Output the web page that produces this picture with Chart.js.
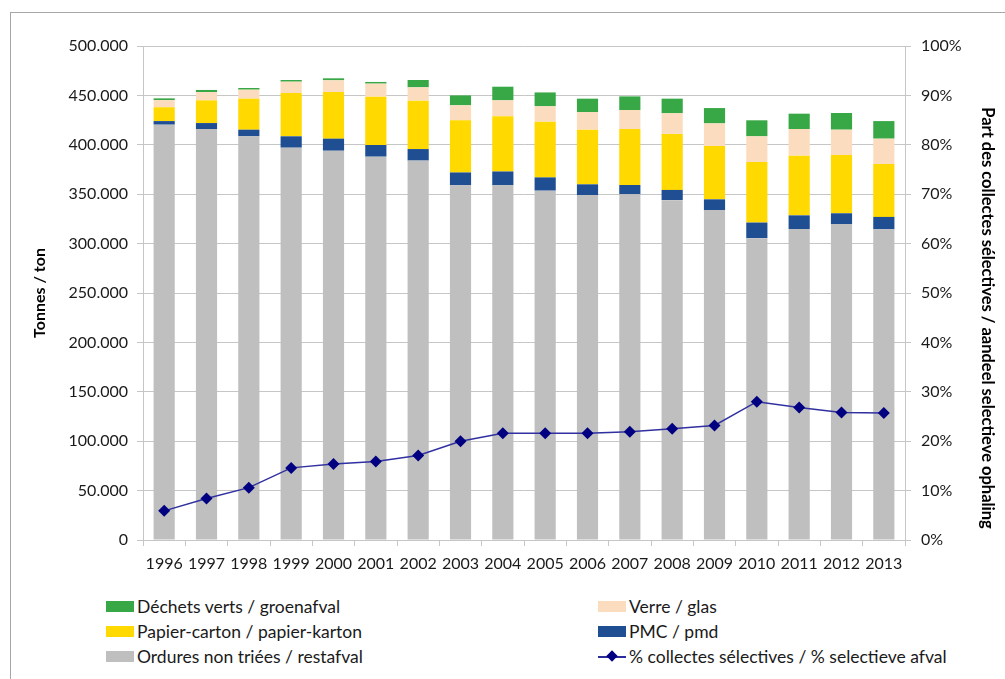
<!DOCTYPE html>
<html>
<head>
<meta charset="utf-8">
<script src="https://cdn.jsdelivr.net/npm/chart.js@4.4.0/dist/chart.umd.min.js"></script>
<style>
  html, body { margin: 0; padding: 0; background: #fff; overflow: hidden; }
  body { width: 1005px; height: 679px; position: relative; font-family: Lato, "Open Sans", sans-serif; }
  #frame { position: absolute; left: 10px; top: 12px; width: 1010px; height: 700px; border: 1px solid #a6a6a6; }
  #wrap { position: absolute; left: 0; top: 0; width: 1005px; height: 585px; }
  #legend { position: absolute; left: 106px; top: 594px; width: 880px; }
  .item { position: absolute; height: 25px; display: flex; align-items: center; font-size: 17.5px; color: #1a1a1a; white-space: nowrap; }
  .sw { width: 28px; height: 11px; margin-right: 3px; }
  .ln { width: 28px; height: 11px; margin-right: 3px; position: relative; }
  .ln::before { content: ""; position: absolute; left: 0; right: 0; top: 5px; height: 2px; background: #2b2b9a; }
  .ln::after { content: ""; position: absolute; left: 10px; top: 1px; width: 8px; height: 8px; background: #000080; transform: rotate(45deg); }
</style>
</head>
<body>
<div id="frame"></div>
<div id="wrap"><canvas id="chart" width="1005" height="585"></canvas></div>
<div id="legend"></div>
<script>
// years and tonnages per stream
const years = ['1996', '1997', '1998', '1999', '2000', '2001', '2002', '2003', '2004',
               '2005', '2006', '2007', '2008', '2009', '2010', '2011', '2012', '2013'];

const ordures = [420400, 416000, 408600, 397100, 394000, 388000, 384000, 359000, 359000,
                 353600, 349200, 350000, 344000, 334000, 305500, 314800, 319800, 314500];
const pmc     = [3600, 6000, 6700, 11500, 12200, 11800, 11700, 13000, 14000,
                 13400, 10800, 9300, 10300, 10800, 15800, 13800, 10900, 12500];
const papier  = [14000, 23000, 31400, 43800, 47200, 48900, 49000, 52800, 56000,
                 56400, 55300, 56700, 56700, 54000, 61300, 60400, 59000, 53600];
const verre   = [7300, 8400, 9100, 11500, 11900, 13200, 13500, 15200, 16000,
                 15600, 17900, 19200, 20900, 22900, 26000, 27000, 25600, 25600];
const groen   = [1700, 2100, 1700, 1700, 2000, 1700, 7400, 10000, 13800,
                 14000, 13500, 13800, 14800, 15500, 16200, 15500, 16900, 17800];

// share of selective collection, in %
const pctSelectif = [5.9, 8.4, 10.6, 14.6, 15.4, 15.9, 17.1, 20.0, 21.6,
                     21.6, 21.6, 21.9, 22.5, 23.2, 28.0, 26.8, 25.8, 25.7];

const leftTicks = [0, 50000, 100000, 150000, 200000, 250000, 300000, 350000, 400000, 450000, 500000];
const rightTicks = [0, 10, 20, 30, 40, 50, 60, 70, 80, 90, 100];

const rightTitle = 'Part des collectes sélectives / aandeel selectieve ophaling';

const fontTick = { family: 'Lato, "Open Sans", sans-serif', size: 16 };
const fontTitle = { family: 'Lato, "Open Sans", sans-serif', size: 16, weight: 'bold' };
const gridGrey = '#c6c6c6';

function bar(label, data, color) {
  return { type: 'bar', label, data, backgroundColor: color, borderWidth: 0,
           yAxisID: 'y', order: 2, barPercentage: 0.5, categoryPercentage: 1 };
}

// right axis title sits a bit lower than the axis centre
const rightTitlePlugin = {
  id: 'rightTitle',
  afterDraw(c) {
    const ctx = c.ctx;
    ctx.save();
    ctx.translate(987, 318);
    ctx.rotate(Math.PI / 2);
    ctx.font = 'bold 16.5px Lato, "Open Sans", sans-serif';
    ctx.fillStyle = '#000';
    ctx.textAlign = 'center';
    ctx.textBaseline = 'middle';
    ctx.fillText(rightTitle, 0, 0);
    ctx.restore();
  }
};

const chart = new Chart(document.getElementById('chart'), {
  data: {
    labels: years,
    datasets: [
      bar('Ordures non triées / restafval', ordures, '#bfbfbf'),
      bar('PMC / pmd', pmc, '#1f4e93'),
      bar('Papier-carton / papier-karton', papier, '#ffd900'),
      bar('Verre / glas', verre, '#fcdcbf'),
      bar('Déchets verts / groenafval', groen, '#37a845'),
      {
        type: 'line', label: '% collectes sélectives / % selectieve afval',
        data: pctSelectif, yAxisID: 'y1', order: 1,
        borderColor: '#3030a0', borderWidth: 1.5, tension: 0,
        pointStyle: 'rectRot', pointRadius: 6, pointBackgroundColor: '#000080',
        pointBorderColor: '#000080', pointBorderWidth: 0
      }
    ]
  },
  options: {
    responsive: false,
    animation: false,
    layout: { padding: { left: 0, right: 0, top: 46, bottom: 0 } },
    plugins: { legend: { display: false }, tooltip: { enabled: false } },
    scales: {
      x: {
        stacked: true,
        grid: { display: true, drawOnChartArea: false, drawTicks: true, tickLength: 6, color: gridGrey, offset: true },
        border: { display: true, color: gridGrey },
        ticks: { color: '#1a1a1a', font: fontTick, padding: 8, maxRotation: 0, autoSkip: false },
        afterFit: s => { s.height = 45; }
      },
      y: {
        stacked: true, position: 'left', min: 0, max: 500000,
        afterBuildTicks: s => { s.ticks = leftTicks.map(v => ({ value: v })); },
        afterFit: s => { s.width = 143; },
        grid: { color: gridGrey, tickLength: 6 },
        border: { display: true, color: gridGrey },
        ticks: {
          color: '#1a1a1a', font: fontTick, padding: 9,
          callback: v => v === 0 ? '0' : v.toLocaleString('de-DE')
        },
        title: { display: true, text: 'Tonnes / ton', color: '#000', font: fontTitle, padding: { top: 30 } }
      },
      y1: {
        position: 'right', min: 0, max: 100,
        afterBuildTicks: s => { s.ticks = rightTicks.map(v => ({ value: v })); },
        afterFit: s => { s.width = 100; },
        grid: { drawOnChartArea: false, color: gridGrey, tickLength: 6 },
        border: { display: true, color: gridGrey },
        ticks: { color: '#1a1a1a', font: fontTick, padding: 10, callback: v => v + '%' }
      }
    }
  },
  plugins: [rightTitlePlugin]
});

// legend in two columns, top of the stack first
const legendOrder = [4, 3, 2, 1, 0, 5];
const box = document.getElementById('legend');
legendOrder.forEach((di, i) => {
  const ds = chart.data.datasets[di];
  const el = document.createElement('div');
  el.className = 'item';
  el.style.left = (i % 2 ? 492 : 0) + 'px';
  el.style.top = (Math.floor(i / 2) * 25) + 'px';
  const mark = document.createElement('span');
  if (ds.type === 'line') {
    mark.className = 'ln';
  } else {
    mark.className = 'sw';
    mark.style.background = ds.backgroundColor;
  }
  el.appendChild(mark);
  el.appendChild(document.createTextNode(ds.label));
  box.appendChild(el);
});
</script>
</body>
</html>
